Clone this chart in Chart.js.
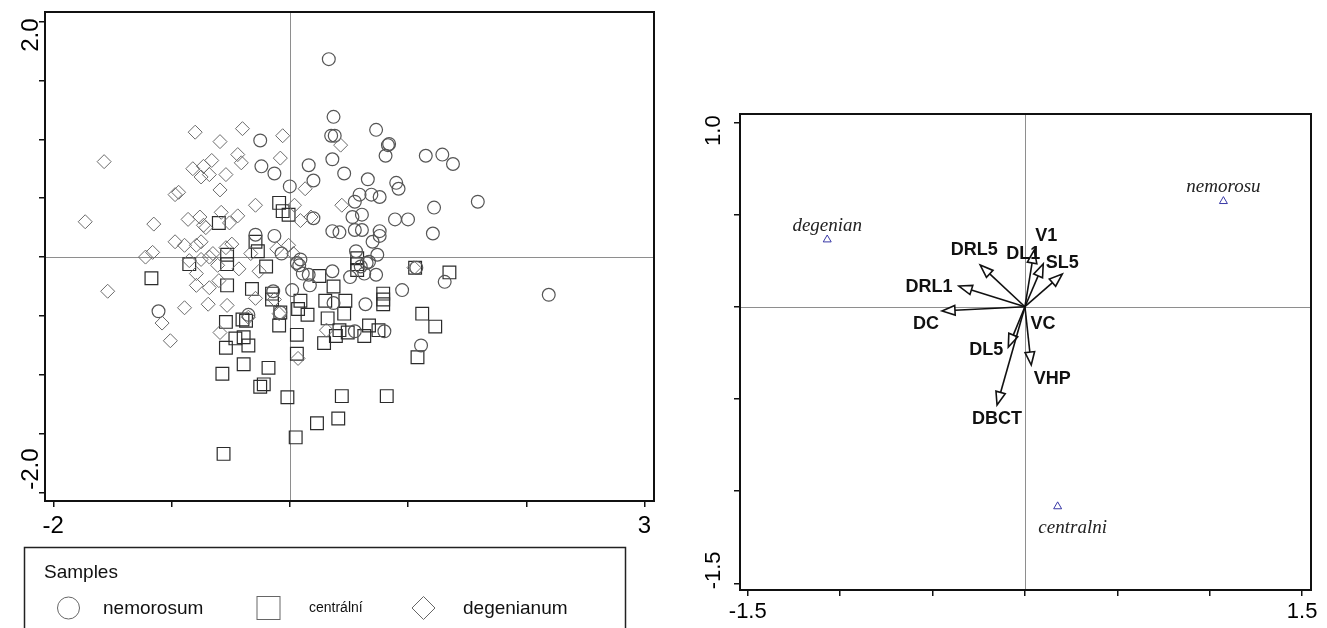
<!DOCTYPE html>
<html>
<head>
<meta charset="utf-8">
<script src="https://cdn.jsdelivr.net/npm/chart.js@4.4.1/dist/chart.umd.min.js"></script>
<style>
  html, body { margin: 0; padding: 0; background: #fff; width: 1327px; height: 628px; overflow: hidden; }
  #samples { position: absolute; left: 0; top: 0; width: 670px; height: 628px; }
  #traits  { position: absolute; left: 690px; top: 0; width: 637px; height: 628px; }
</style>
</head>
<body>
<canvas id="samples" width="670" height="628"></canvas>
<canvas id="traits" width="637" height="628"></canvas>
<script>
// ---- Sample scores (axis 1, axis 2) ----
const nemorosum = [
  [0.33,1.68],[0.37,1.19],[-0.25,0.99],[0.35,1.03],[0.38,1.03],[0.73,1.08],[0.83,0.95],[0.84,0.96],
  [0.81,0.86],[1.15,0.86],[1.29,0.87],[1.38,0.79],[-0.24,0.77],[0.36,0.83],[0.16,0.78],[-0.13,0.71],
  [0.46,0.71],[0.00,0.60],[0.20,0.65],[0.66,0.66],[0.90,0.63],[0.92,0.58],[0.59,0.53],[0.69,0.53],
  [0.76,0.51],[0.55,0.47],[1.59,0.47],[1.22,0.42],[0.53,0.34],[0.61,0.36],[0.20,0.33],[0.89,0.32],
  [1.00,0.32],[0.36,0.22],[0.42,0.21],[0.55,0.23],[0.61,0.23],[0.76,0.22],[1.21,0.20],[0.76,0.18],
  [-0.29,0.19],[-0.13,0.18],[0.70,0.13],[0.56,0.05],[0.74,0.02],[-0.07,0.03],[0.09,-0.02],[0.08,-0.07],
  [0.67,-0.04],[0.60,-0.08],[0.36,-0.12],[0.11,-0.14],[0.16,-0.15],[0.17,-0.24],[0.51,-0.17],[0.73,-0.15],
  [1.07,-0.09],[1.31,-0.21],[0.02,-0.28],[0.95,-0.28],[-0.14,-0.29],[0.37,-0.39],[0.64,-0.40],[2.19,-0.32],
  [-1.11,-0.46],[-0.08,-0.47],[-0.35,-0.49],[0.55,-0.63],[0.80,-0.63],[1.11,-0.75],[0.63,-0.14],[0.65,-0.05],
  [0.06,-0.05]
];
const centralni = [
  [-0.09,0.46],[-0.06,0.39],[-0.01,0.36],[-0.60,0.29],[-0.29,0.13],[-0.27,0.05],[-0.53,0.02],[-0.53,-0.06],
  [-0.85,-0.06],[-1.17,-0.18],[-0.53,-0.24],[-0.20,-0.08],[-0.32,-0.27],[-0.15,-0.31],[-0.15,-0.36],[-0.08,-0.47],
  [-0.09,-0.58],[-0.54,-0.55],[-0.40,-0.53],[-0.37,-0.54],[-0.46,-0.69],[-0.39,-0.68],[-0.54,-0.77],[-0.35,-0.75],
  [0.06,-0.66],[0.06,-0.82],[-0.39,-0.91],[-0.18,-0.94],[-0.57,-0.99],[-0.22,-1.08],[-0.25,-1.10],[-0.02,-1.19],
  [0.44,-1.18],[0.82,-1.18],[0.23,-1.41],[0.41,-1.37],[0.05,-1.53],[-0.56,-1.67],[0.25,-0.16],[0.37,-0.25],
  [0.09,-0.37],[0.07,-0.44],[0.15,-0.49],[0.30,-0.37],[0.47,-0.37],[0.46,-0.48],[0.32,-0.52],[0.42,-0.62],
  [0.39,-0.67],[0.49,-0.64],[0.67,-0.58],[0.75,-0.62],[0.63,-0.67],[0.29,-0.73],[0.79,-0.31],[0.79,-0.36],
  [0.79,-0.40],[0.57,-0.01],[0.57,-0.06],[0.57,-0.11],[1.06,-0.09],[1.35,-0.13],[1.12,-0.48],[1.23,-0.59],
  [1.08,-0.85]
];
const degenianum = [
  [-0.80,1.06],[-0.40,1.09],[-0.59,0.98],[-0.06,1.03],[0.43,0.95],[-1.57,0.81],[-0.66,0.82],[-0.44,0.87],
  [-0.08,0.84],[-0.41,0.80],[-0.82,0.75],[-0.73,0.77],[-0.75,0.68],[-0.68,0.70],[-0.54,0.70],[-0.97,0.53],
  [-0.94,0.55],[-0.59,0.57],[-0.29,0.44],[0.04,0.44],[0.13,0.58],[0.44,0.44],[-1.73,0.30],[-1.15,0.28],
  [-0.86,0.32],[-0.76,0.34],[-0.73,0.27],[-0.58,0.38],[-0.51,0.29],[-0.44,0.35],[-0.71,0.25],[0.18,0.34],
  [0.09,0.31],[-0.97,0.13],[-0.89,0.10],[-0.79,0.10],[-0.75,0.13],[-1.22,0.00],[-1.16,0.04],[-0.65,0.03],
  [-0.54,0.08],[-0.49,0.11],[-0.33,0.03],[-0.11,0.07],[-0.01,0.10],[0.03,0.03],[-0.85,-0.03],[-0.75,-0.02],
  [-0.68,0.00],[-0.61,-0.07],[-0.43,-0.10],[-0.26,-0.12],[-0.79,-0.14],[-0.79,-0.24],[-0.68,-0.26],[-0.60,-0.20],
  [-1.54,-0.29],[-0.89,-0.43],[-0.69,-0.40],[-0.53,-0.41],[-0.29,-0.35],[-0.13,-0.36],[-1.08,-0.56],[-1.01,-0.71],
  [-0.59,-0.64],[-0.09,-0.48],[-0.35,-0.51],[0.31,-0.62],[0.07,-0.86],[1.05,-0.09]
];

// ---- Axis ticks ----
const xTicksSamples = [-2, -1, 0, 1, 2, 3];
const yTicksSamples = [-2, -1.5, -1, -0.5, 0, 0.5, 1, 1.5, 2];
const xTicksTraits  = [-1.5, -1, -0.5, 0, 0.5, 1, 1.5];
const yTicksTraits  = [-1.5, -1, -0.5, 0, 0.5, 1];

// ---- Trait vectors ----
const varNames = ['V1', 'DL1', 'SL5', 'DRL5', 'DRL1', 'DC', 'VC', 'DL5', 'VHP', 'DBCT'];
const varX     = [0.050, 0.099, 0.202, -0.242, -0.357, -0.449, 0.000, -0.090, 0.034, -0.151];
const varY     = [0.307, 0.232, 0.177,  0.226,  0.112, -0.023, 0.000, -0.219, -0.316, -0.533];

// ---- Group centroids ----
const groupNames = ['degenian', 'nemorosu', 'centralni'];
const groupX     = [-1.070, 1.074, 0.177];
const groupY     = [0.364, 0.572, -1.083];

// ---- Presentation ----
const SANS = '"Liberation Sans", Arial, Helvetica, sans-serif';
const SERIF = '"Liberation Serif", "Times New Roman", serif';
Chart.defaults.font.family = SANS;

const varLabelShift = {
  V1: [12, -14], DL1: [-20, -10], SL5: [0, -11], DRL5: [-6, -15], DRL1: [-30, 1],
  DC: [-16, 13], VC: [18, 17], DL5: [-22, 3], VHP: [21, 14], DBCT: [0, 14]
};
const groupLabelShift = { degenian: [0, -14], nemorosu: [0, -14], centralni: [15, 22] };

const toPts = arr => arr.map(([x, y]) => ({ x, y }));

function linearAxis(min, max, ticks, fitSize, isX, fontSize, pad) {
  const first = ticks[0], last = ticks[ticks.length - 1];
  return {
    type: 'linear',
    position: isX ? 'bottom' : 'left',
    min, max,
    afterBuildTicks: s => { s.ticks = ticks.map(v => ({ value: v })); },
    afterFit: s => { if (isX) s.height = fitSize; else s.width = fitSize; },
    grid: { drawOnChartArea: false, drawTicks: true, tickLength: 6, color: '#111', lineWidth: 1.5 },
    border: { display: false },
    ticks: isX ? {
      autoSkip: false, maxRotation: 0, minRotation: 0, padding: pad, color: '#000',
      font: { size: fontSize },
      callback: v => (v === first || v === last) ? String(v) : ''
    } : { display: false }
  };
}

// zero lines + closed frame
const framePlugin = {
  id: 'frame',
  beforeDatasetsDraw(chart) {
    const { ctx, chartArea: a, scales: { x, y } } = chart;
    const px = Math.round(x.getPixelForValue(0)) + 0.5;
    const py = Math.round(y.getPixelForValue(0)) + 0.5;
    ctx.save();
    ctx.strokeStyle = '#8e8e8e';
    ctx.lineWidth = 1;
    ctx.beginPath();
    ctx.moveTo(px, a.top); ctx.lineTo(px, a.bottom);
    ctx.moveTo(a.left, py); ctx.lineTo(a.right, py);
    ctx.stroke();
    ctx.restore();
  },
  afterDraw(chart) {
    const { ctx, chartArea: a } = chart;
    ctx.save();
    ctx.strokeStyle = '#111';
    ctx.lineWidth = 2;
    ctx.strokeRect(a.left, a.top, a.right - a.left, a.bottom - a.top);
    ctx.restore();
  }
};

// rotated end labels of the vertical axis
function yEndLabels(fontSize, cx, topShift, bottomShift) {
  return {
    id: 'yEndLabels',
    afterDraw(chart) {
      const { ctx, scales: { y } } = chart;
      const t = y.ticks;
      const lo = t[0].value, hi = t[t.length - 1].value;
      ctx.save();
      ctx.font = fontSize + 'px ' + SANS;
      ctx.fillStyle = '#000';
      ctx.textBaseline = 'middle';
      ctx.save();
      ctx.translate(cx, y.getPixelForValue(hi) + topShift);
      ctx.rotate(-Math.PI / 2);
      ctx.textAlign = 'right';
      ctx.fillText(hi.toFixed(1), 0, 0);
      ctx.restore();
      ctx.save();
      ctx.translate(cx, y.getPixelForValue(lo) + bottomShift);
      ctx.rotate(-Math.PI / 2);
      ctx.textAlign = 'left';
      ctx.fillText(lo.toFixed(1), 0, 0);
      ctx.restore();
      ctx.restore();
    }
  };
}

// "Samples" key below the ordination
const samplesKey = {
  id: 'samplesKey',
  afterDraw(chart) {
    const ctx = chart.ctx;
    ctx.save();
    ctx.strokeStyle = '#222';
    ctx.lineWidth = 1.5;
    ctx.strokeRect(24.5, 547.5, 601, 120);
    ctx.fillStyle = '#111';
    ctx.textBaseline = 'middle';
    ctx.textAlign = 'left';
    ctx.font = '19px ' + SANS;
    ctx.fillText('Samples', 44, 573);

    const cy = 608;
    ctx.strokeStyle = '#666';
    ctx.lineWidth = 1;
    ctx.beginPath(); ctx.arc(68.5, cy, 11, 0, Math.PI * 2); ctx.stroke();
    ctx.strokeRect(257, cy - 11.5, 23, 23);
    ctx.beginPath();
    ctx.moveTo(423.5, cy - 11.5); ctx.lineTo(435, cy); ctx.lineTo(423.5, cy + 11.5); ctx.lineTo(412, cy);
    ctx.closePath(); ctx.stroke();

    ctx.fillStyle = '#111';
    ctx.font = '19px ' + SANS;
    ctx.fillText('nemorosum', 103, cy + 1);
    ctx.font = '14px ' + SANS;
    ctx.fillText('centrální', 309, cy);
    ctx.font = '19px ' + SANS;
    ctx.fillText('degenianum', 463, cy + 1);
    ctx.restore();
  }
};

// trait arrows with open heads and bold labels
const vectorPlugin = {
  id: 'vectors',
  afterDatasetsDraw(chart) {
    const { ctx, scales: { x, y } } = chart;
    const ox = x.getPixelForValue(0), oy = y.getPixelForValue(0);
    ctx.save();
    ctx.strokeStyle = '#111';
    ctx.fillStyle = '#fff';
    ctx.lineWidth = 1.6;
    ctx.lineJoin = 'miter';
    varNames.forEach((name, i) => {
      const tx = x.getPixelForValue(varX[i]), ty = y.getPixelForValue(varY[i]);
      const dx = tx - ox, dy = ty - oy, len = Math.hypot(dx, dy);
      if (len < 2) return;
      const ux = dx / len, uy = dy / len;
      const hl = Math.min(13, len * 0.6), hw = 4.8;
      const bx = tx - ux * hl, by = ty - uy * hl;
      ctx.beginPath(); ctx.moveTo(ox, oy); ctx.lineTo(bx, by); ctx.stroke();
      ctx.beginPath();
      ctx.moveTo(tx, ty);
      ctx.lineTo(bx - uy * hw, by + ux * hw);
      ctx.lineTo(bx + uy * hw, by - ux * hw);
      ctx.closePath();
      ctx.fill(); ctx.stroke();
    });
    ctx.fillStyle = '#111';
    ctx.font = 'bold 18px ' + SANS;
    ctx.textAlign = 'center';
    ctx.textBaseline = 'middle';
    varNames.forEach((name, i) => {
      const tx = x.getPixelForValue(varX[i]), ty = y.getPixelForValue(varY[i]);
      const s = varLabelShift[name];
      ctx.fillText(name, tx + s[0], ty + s[1]);
    });
    ctx.font = 'italic 19px ' + SERIF;
    ctx.fillStyle = '#222';
    groupNames.forEach((name, i) => {
      const gx = x.getPixelForValue(groupX[i]), gy = y.getPixelForValue(groupY[i]);
      const s = groupLabelShift[name];
      ctx.fillText(name, gx + s[0], gy + s[1]);
    });
    ctx.restore();
  }
};

new Chart(document.getElementById('samples'), {
  type: 'scatter',
  data: {
    datasets: [
      { label: 'degenianum', data: toPts(degenianum), pointStyle: 'rectRot', pointRadius: 7,
        borderColor: '#6a6a6a', borderWidth: 1, backgroundColor: 'rgba(0,0,0,0)' },
      { label: 'nemorosum', data: toPts(nemorosum), pointStyle: 'circle', pointRadius: 6.4,
        borderColor: '#555', borderWidth: 1.2, backgroundColor: 'rgba(0,0,0,0)' },
      { label: 'centrální', data: toPts(centralni), pointStyle: 'rect', pointRadius: 9,
        borderColor: '#2b2b2b', borderWidth: 1.2, backgroundColor: 'rgba(0,0,0,0)' }
    ]
  },
  options: {
    responsive: false,
    animation: false,
    events: [],
    layout: { padding: { left: 0, top: 12, right: 16, bottom: 83 } },
    plugins: { legend: { display: false }, tooltip: { enabled: false } },
    scales: {
      x: linearAxis(-2.07, 3.08, xTicksSamples, 44, true, 24, 5),
      y: linearAxis(-2.07, 2.08, yTicksSamples, 45, false, 24, 0)
    }
  },
  plugins: [framePlugin, yEndLabels(24, 31, -3, -3), samplesKey]
});

new Chart(document.getElementById('traits'), {
  type: 'scatter',
  data: {
    datasets: [
      { label: 'groups', data: groupX.map((gx, i) => ({ x: gx, y: groupY[i] })),
        pointStyle: 'triangle', pointRadius: 4.6, borderColor: '#3838a6', borderWidth: 1,
        backgroundColor: 'rgba(0,0,0,0)' }
    ]
  },
  options: {
    responsive: false,
    animation: false,
    events: [],
    layout: { padding: { left: 0, top: 114, right: 16, bottom: 0 } },
    plugins: { legend: { display: false }, tooltip: { enabled: false } },
    scales: {
      x: linearAxis(-1.542, 1.548, xTicksTraits, 38, true, 22, 3),
      y: linearAxis(-1.536, 1.045, yTicksTraits, 50, false, 22, 0)
    }
  },
  plugins: [framePlugin, yEndLabels(22, 24, -7, 6), vectorPlugin]
});
</script>
</body>
</html>
